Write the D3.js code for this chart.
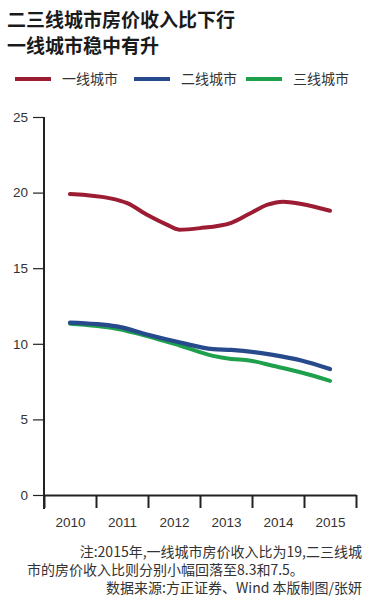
<!DOCTYPE html>
<html>
<head>
<meta charset="utf-8">
<script src="https://cdn.jsdelivr.net/npm/d3@7"></script>
<style>
  body { margin: 0; background: #fff; }
  svg text { font-family: "Liberation Sans", Arial, sans-serif; }
  .cjk { font-family: "Noto Sans CJK SC", sans-serif; }
</style>
</head>
<body>
<svg></svg>
<script>
const years = [2010, 2011, 2012, 2013, 2014, 2015];
const yTicks = [0, 5, 10, 15, 20, 25];

const seriesNames = ['一线城市', '二线城市', '三线城市'];
const seriesColors = ['#9c1c33', '#264a8c', '#1ea04c'];

// time positions (fractional years)
const redX = [2010.0, 2010.8, 2011.1, 2011.5, 2011.85, 2012.1, 2012.5, 2013.1, 2013.45, 2013.8, 2014.1, 2014.45, 2015.0];
const redY = [19.9, 19.6, 19.3, 18.5, 17.9, 17.55, 17.65, 18.0, 18.6, 19.2, 19.4, 19.25, 18.8];

const blueX = [2010.0, 2010.9, 2011.5, 2012.1, 2012.75, 2013.1, 2013.9, 2014.45, 2015.0];
const blueY = [11.4, 11.15, 10.6, 10.1, 9.65, 9.6, 9.27, 8.9, 8.33];

const greenX = [2010.0, 2010.9, 2011.5, 2012.1, 2012.75, 2013.1, 2013.45, 2013.9, 2014.45, 2015.0];
const greenY = [11.33, 11.0, 10.5, 9.9, 9.2, 9.0, 8.9, 8.55, 8.1, 7.55];

const width = 366;
const height = 600;

let svg = d3.select('svg')
    .attr('width', width)
    .attr('height', height);

let xScale = d3.scaleLinear()
    .domain([2009.5, 2015.5])
    .range([44, 356]);

let yScale = d3.scaleLinear()
    .domain([0, 25])
    .range([495, 117]);

// title
svg.append('text')
    .attr('class', 'cjk')
    .attr('x', 7).attr('y', 27)
    .attr('font-size', 19).attr('font-weight', 'bold')
    .attr('fill', '#1a1a1a')
    .text('二三线城市房价收入比下行');
svg.append('text')
    .attr('class', 'cjk')
    .attr('x', 7).attr('y', 53)
    .attr('font-size', 19).attr('font-weight', 'bold')
    .attr('fill', '#1a1a1a')
    .text('一线城市稳中有升');

// legend
const legendX = [15, 134, 246];
seriesNames.forEach((name, i) => {
    svg.append('line')
        .attr('x1', legendX[i]).attr('x2', legendX[i] + 36)
        .attr('y1', 79).attr('y2', 79)
        .attr('stroke', seriesColors[i])
        .attr('stroke-width', 4);
    svg.append('text')
        .attr('class', 'cjk')
        .attr('x', legendX[i] + 47).attr('y', 84)
        .attr('font-size', 14)
        .attr('fill', '#333')
        .text(name);
});

// axes
let yAxis = d3.axisLeft(yScale)
    .tickValues(yTicks)
    .tickSize(11)
    .tickPadding(5)
    .tickSizeOuter(0);

let yG = svg.append('g')
    .attr('transform', 'translate(44,0)')
    .call(yAxis);
yG.select('.domain').remove();
yG.selectAll('line').attr('stroke', '#222').attr('stroke-width', 1.2);
yG.selectAll('text').attr('font-size', 13.5).attr('fill', '#333');

svg.append('line')
    .attr('x1', 44).attr('x2', 44)
    .attr('y1', yScale(25)).attr('y2', 509)
    .attr('stroke', '#222').attr('stroke-width', 2);

let xTickAxis = d3.axisBottom(xScale)
    .tickValues(years.map(y => y - 0.5).concat([2015.5]))
    .tickSize(13)
    .tickSizeOuter(0)
    .tickFormat('');

let xG = svg.append('g')
    .attr('transform', 'translate(0,495)')
    .call(xTickAxis);
xG.select('.domain').attr('stroke', '#222').attr('stroke-width', 2);
xG.selectAll('line').attr('stroke', '#222').attr('stroke-width', 2);

let xLabelAxis = d3.axisBottom(xScale)
    .tickValues(years)
    .tickSize(0)
    .tickPadding(22)
    .tickFormat(d3.format('d'));

let xL = svg.append('g')
    .attr('transform', 'translate(0,495)')
    .call(xLabelAxis);
xL.select('.domain').remove();
xL.selectAll('text').attr('font-size', 13.5).attr('fill', '#333');

// lines
const line = d3.line()
    .x(d => xScale(d[0]))
    .y(d => yScale(d[1]))
    .curve(d3.curveMonotoneX);

const series = [
    { xs: redX, ys: redY, color: seriesColors[0], w: 4 },
    { xs: greenX, ys: greenY, color: seriesColors[2], w: 4 },
    { xs: blueX, ys: blueY, color: seriesColors[1], w: 4.2 }
];

series.forEach(s => {
    svg.append('path')
        .datum(s.xs.map((x, i) => [x, s.ys[i]]))
        .attr('d', line)
        .attr('fill', 'none')
        .attr('stroke', s.color)
        .attr('stroke-width', s.w)
        .attr('stroke-linecap', 'round')
        .attr('stroke-linejoin', 'round');
});

// footnote
const notes = [
    { text: '注:2015年,一线城市房价收入比为19,二三线城', x: 362, anchor: 'end', y: 557 },
    { text: '市的房价收入比则分别小幅回落至8.3和7.5。', x: 27, anchor: 'start', y: 575 },
    { text: '数据来源:方正证券、Wind  本版制图/张妍', x: 362, anchor: 'end', y: 593 }
];
notes.forEach(n => {
    svg.append('text')
        .attr('class', 'cjk')
        .attr('x', n.x).attr('y', n.y)
        .attr('text-anchor', n.anchor)
        .attr('font-size', 14)
        .attr('fill', '#333')
        .text(n.text);
});
</script>
</body>
</html>
